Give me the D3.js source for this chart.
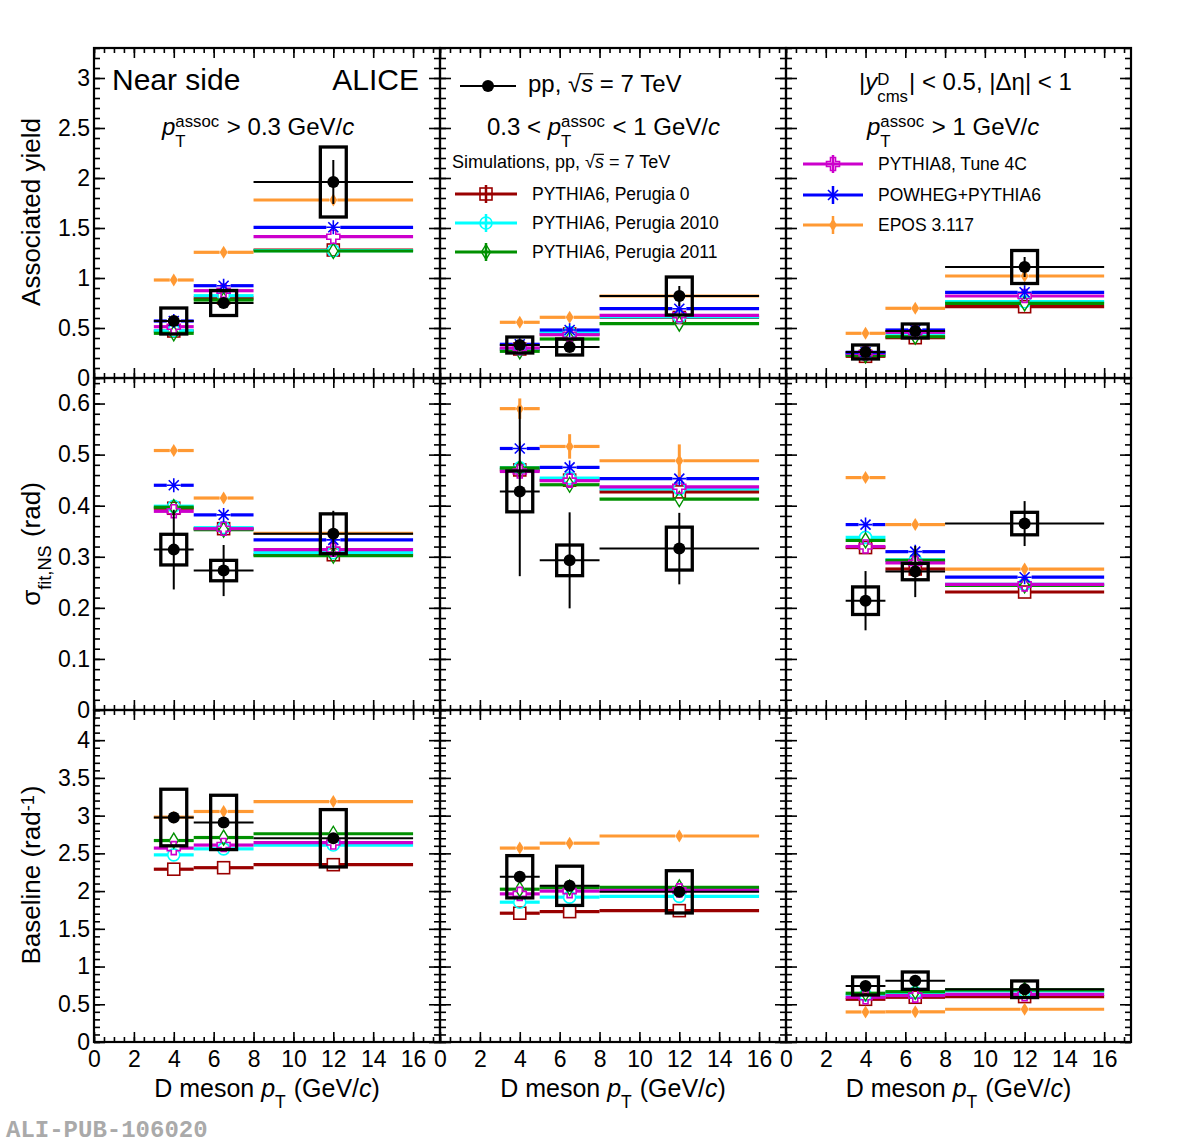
<!DOCTYPE html>
<meta charset="utf-8">
<style>
  body { margin: 0; background: white; }
  svg { display: block; background: white; }
  text { font-family: "Liberation Sans", Arial, Helvetica, sans-serif; white-space: pre; fill: black; }
  .tick text { font-size: 23px; font-family: "Liberation Sans", Arial, Helvetica, sans-serif; }
</style>
<body>
<svg width="1182" height="1146"></svg>
<script src="https://d3js.org/d3.v7.min.js"></script>
<script>
  // D meson pT bins
  var ptLow = [3, 5, 8], ptHigh = [5, 8, 16], ptMid = [4, 6.5, 12];
  var xTicks = [0, 2, 4, 6, 8, 10, 12, 14, 16];
  var yieldTicks = [0, 0.5, 1, 1.5, 2, 2.5, 3];
  var sigmaTicks = [0, 0.1, 0.2, 0.3, 0.4, 0.5, 0.6];
  var baseTicks = [0, 0.5, 1, 1.5, 2, 2.5, 3, 3.5, 4];

  // one inner list per column: pT assoc > 0.3, 0.3-1, > 1 GeV/c
  var yieldData = [[0.57, 0.75, 1.96], [0.33, 0.31, 0.82], [0.26, 0.47, 1.11]];
  var yieldStat = [[0.05, 0.05, 0.22], [0.04, 0.04, 0.1], [0.03, 0.04, 0.1]];
  var yieldSyst = [[0.13, 0.125, 0.35], [0.08, 0.08, 0.19], [0.07, 0.07, 0.165]];
  var sigmaData = [[0.314, 0.273, 0.345], [0.428, 0.293, 0.316], [0.214, 0.271, 0.365]];
  var sigmaStat = [[0.078, 0.05, 0.045], [0.166, 0.094, 0.07], [0.058, 0.05, 0.044]];
  var sigmaSyst = [[0.03, 0.02, 0.039], [0.04, 0.03, 0.042], [0.027, 0.016, 0.022]];
  var baseData = [[2.975, 2.91, 2.70], [2.19, 2.07, 1.99], [0.743, 0.813, 0.699]];
  var baseStat = [[0.03, 0.03, 0.05], [0.03, 0.03, 0.04], [0.02, 0.02, 0.02]];
  var baseSyst = [[0.375, 0.36, 0.38], [0.28, 0.26, 0.28], [0.12, 0.115, 0.11]];

  var yieldPerugia0 = [[0.47, 0.80, 1.28], [0.29, 0.44, 0.605], [0.217, 0.403, 0.713]];
  var yieldPerugia2010 = [[0.473, 0.823, 1.273], [0.29, 0.455, 0.61], [0.237, 0.447, 0.763]];
  var yieldPerugia2011 = [[0.447, 0.78, 1.27], [0.267, 0.39, 0.543], [0.227, 0.413, 0.747]];
  var yieldPythia8 = [[0.513, 0.873, 1.413], [0.30, 0.433, 0.627], [0.247, 0.457, 0.82]];
  var yieldPowheg = [[0.57, 0.923, 1.507], [0.337, 0.48, 0.693], [0.257, 0.48, 0.857]];
  var yieldEpos = [[0.98, 1.257, 1.78], [0.557, 0.607, 0.82], [0.447, 0.697, 1.02]];

  var sigmaPerugia0 = [[0.395, 0.355, 0.304], [0.47, 0.45, 0.427], [0.318, 0.276, 0.231]];
  var sigmaPerugia2010 = [[0.399, 0.357, 0.308], [0.474, 0.454, 0.433], [0.338, 0.294, 0.246]];
  var sigmaPerugia2011 = [[0.397, 0.353, 0.302], [0.474, 0.441, 0.413], [0.332, 0.293, 0.244]];
  var sigmaPythia8 = [[0.389, 0.355, 0.314], [0.467, 0.449, 0.437], [0.32, 0.288, 0.246]];
  var sigmaPowheg = [[0.44, 0.382, 0.333], [0.512, 0.475, 0.453], [0.363, 0.31, 0.26]];
  var sigmaEpos = [[0.508, 0.415, 0.346], [0.59, 0.516, 0.488], [0.455, 0.363, 0.276]];
  var sigmaEposErr = [[0.004, 0.005, 0.004], [0.02, 0.024, 0.032], [0.004, 0.004, 0.004]];

  var basePerugia0 = [[2.29, 2.31, 2.35], [1.707, 1.728, 1.741], [0.566, 0.593, 0.602]];
  var basePerugia2010 = [[2.48, 2.56, 2.61], [1.853, 1.92, 1.93], [0.623, 0.654, 0.676]];
  var basePerugia2011 = [[2.67, 2.71, 2.76], [2.025, 2.045, 2.05], [0.646, 0.667, 0.69]];
  var basePythia8 = [[2.57, 2.61, 2.643], [1.963, 2.0, 2.01], [0.593, 0.615, 0.632]];
  var baseEpos = [[2.98, 3.055, 3.187], [2.57, 2.635, 2.73], [0.398, 0.40, 0.434]];

  var models = [
    { name: "PYTHIA6, Perugia 0", color: "#990000", marker: "square", yield: yieldPerugia0, sigma: sigmaPerugia0, base: basePerugia0 },
    { name: "PYTHIA6, Perugia 2010", color: "#00ffff", marker: "circle", yield: yieldPerugia2010, sigma: sigmaPerugia2010, base: basePerugia2010 },
    { name: "PYTHIA6, Perugia 2011", color: "#009000", marker: "diamond", yield: yieldPerugia2011, sigma: sigmaPerugia2011, base: basePerugia2011 },
    { name: "PYTHIA8, Tune 4C", color: "#cc00cc", marker: "cross", yield: yieldPythia8, sigma: sigmaPythia8, base: basePythia8 },
    { name: "POWHEG+PYTHIA6", color: "#0000ff", marker: "star", yield: yieldPowheg, sigma: sigmaPowheg, base: null },
    { name: "EPOS 3.117", color: "#ff9933", marker: "fdiamond", yield: yieldEpos, sigma: sigmaEpos, base: baseEpos, sigmaErr: sigmaEposErr }
  ];

  var measured = {
    yield: { v: yieldData, stat: yieldStat, syst: yieldSyst },
    sigma: { v: sigmaData, stat: sigmaStat, syst: sigmaSyst },
    base: { v: baseData, stat: baseStat, syst: baseSyst }
  };

  var rows = [
    { key: "yield", max: 3.3, ticks: yieldTicks, minor: 0.1 },
    { key: "sigma", max: 0.65, ticks: sigmaTicks, minor: 0.02 },
    { key: "base", max: 4.4, ticks: baseTicks, minor: 0.1 }
  ];

  var svg = d3.select("svg");
  var colLeft = [94, 440, 786], colW = [346, 346, 345];
  var rowTop = [48, 378, 710], rowH = [330, 332, 332];
  var xMax = 17.35, boxHalf = 0.65;

  function steps(step, max) {
    var out = [];
    for (var i = 0; i * step <= max + 1e-9; i++) out.push(+(i * step).toFixed(4));
    return out;
  }

  var markerHalf = { dot: 6, square: 6, circle: 6, diamond: 4.5, cross: 6.5, star: 7, fdiamond: 4 };

  function marker(g, type, cx, cy, color) {
    if (type == "dot") {
      g.append("circle").attr("cx", cx).attr("cy", cy).attr("r", 6).attr("fill", color);
    } else if (type == "square") {
      g.append("rect").attr("x", cx - 6).attr("y", cy - 6).attr("width", 12).attr("height", 12)
        .attr("fill", "none").attr("stroke", color).attr("stroke-width", 1.6);
    } else if (type == "circle") {
      g.append("circle").attr("cx", cx).attr("cy", cy).attr("r", 6)
        .attr("fill", "none").attr("stroke", color).attr("stroke-width", 1.6);
    } else if (type == "diamond") {
      g.append("path").attr("d", "M" + cx + "," + (cy - 7.5) + "L" + (cx + 4.5) + "," + cy + "L" + cx + "," + (cy + 7.5) + "L" + (cx - 4.5) + "," + cy + "Z")
        .attr("fill", "none").attr("stroke", color).attr("stroke-width", 1.4);
    } else if (type == "cross") {
      var a = 6.5, b = 2.5;
      var p = [[-b, -a], [b, -a], [b, -b], [a, -b], [a, b], [b, b], [b, a], [-b, a], [-b, b], [-a, b], [-a, -b], [-b, -b]];
      g.append("path").attr("d", "M" + p.map(function(q) { return (cx + q[0]) + "," + (cy + q[1]); }).join("L") + "Z")
        .attr("fill", "none").attr("stroke", color).attr("stroke-width", 1.6);
    } else if (type == "star") {
      g.append("path").attr("d", "M" + (cx - 7) + "," + cy + "H" + (cx + 7) + "M" + cx + "," + (cy - 7) + "V" + (cy + 7) +
        "M" + (cx - 5) + "," + (cy - 5) + "L" + (cx + 5) + "," + (cy + 5) + "M" + (cx - 5) + "," + (cy + 5) + "L" + (cx + 5) + "," + (cy - 5))
        .attr("stroke", color).attr("stroke-width", 1.6).attr("fill", "none");
    } else if (type == "fdiamond") {
      g.append("path").attr("d", "M" + cx + "," + (cy - 6.5) + "L" + (cx + 4) + "," + cy + "L" + cx + "," + (cy + 6.5) + "L" + (cx - 4) + "," + cy + "Z")
        .attr("fill", color);
    }
  }

  // text with italic pieces, stacked super/subscripts and overlines
  function rich(parent, x, y, parts, size, anchor, rotate) {
    var g = parent.append("g");
    var cx = 0;
    parts.forEach(function(p) {
      if (typeof p == "string") p = { t: p };
      if (p.sup != null || p.sub != null) {
        var w = 0, s = size * 0.7;
        if (p.sup != null) {
          var t1 = g.append("text").attr("x", cx).attr("y", size * (p.supDy || -0.33)).attr("font-size", s).text(p.sup);
          w = Math.max(w, t1.node().getComputedTextLength());
        }
        if (p.sub != null) {
          var t2 = g.append("text").attr("x", cx).attr("y", size * (p.subDy || 0.48)).attr("font-size", s).text(p.sub);
          w = Math.max(w, t2.node().getComputedTextLength());
        }
        cx += w + 1;
      } else {
        var t = g.append("text").attr("x", cx).attr("y", 0).attr("font-size", size).text(p.t);
        if (p.it) t.attr("font-style", "italic");
        var len = t.node().getComputedTextLength();
        if (p.over) {
          g.append("line").attr("x1", cx - 1).attr("x2", cx + len).attr("y1", -size * 0.76).attr("y2", -size * 0.76)
            .attr("stroke", "black").attr("stroke-width", 1.2);
        }
        cx += len;
      }
    });
    var dx = anchor == "middle" ? -cx / 2 : anchor == "end" ? -cx : 0;
    g.attr("transform", "translate(" + x + "," + y + ") rotate(" + (rotate || 0) + ") translate(" + dx + ",0)");
    return g;
  }

  rows.forEach(function(row, r) {
    var y0 = rowTop[r], h = rowH[r];
    colLeft.forEach(function(x0, c) {
      var w = colW[c];
      var x = d3.scaleLinear().domain([0, xMax]).range([x0, x0 + w]);
      var y = d3.scaleLinear().domain([0, row.max]).range([y0 + h, y0]);
      var g = svg.append("g");

      // models, drawn as horizontal bin lines with a marker in the middle
      models.forEach(function(m) {
        var vals = m[row.key];
        if (!vals) return;
        var errs = m[row.key + "Err"];
        var mg = g.append("g");
        vals[c].forEach(function(v, i) {
          var ym = y(v), xm = x(ptMid[i]), gap = markerHalf[m.marker];
          mg.append("line").attr("x1", x(ptLow[i])).attr("x2", xm - gap).attr("y1", ym).attr("y2", ym)
            .attr("stroke", m.color).attr("stroke-width", 3.2);
          mg.append("line").attr("x1", xm + gap).attr("x2", x(ptHigh[i])).attr("y1", ym).attr("y2", ym)
            .attr("stroke", m.color).attr("stroke-width", 3.2);
          if (errs) {
            var e = errs[c][i];
            if (y(v - e) - ym > gap) {
              mg.append("line").attr("x1", xm).attr("x2", xm).attr("y1", y(v + e)).attr("y2", ym - gap)
                .attr("stroke", m.color).attr("stroke-width", 3);
              mg.append("line").attr("x1", xm).attr("x2", xm).attr("y1", ym + gap).attr("y2", y(v - e))
                .attr("stroke", m.color).attr("stroke-width", 3);
            }
          }
          marker(mg, m.marker, xm, ym, m.color);
        });
      });

      // measured points: syst boxes, stat bars, bin widths
      var d = measured[row.key];
      var dg = g.append("g");
      d.v[c].forEach(function(v, i) {
        var xm = x(ptMid[i]);
        dg.append("rect")
          .attr("x", x(ptMid[i] - boxHalf)).attr("width", x(ptMid[i] + boxHalf) - x(ptMid[i] - boxHalf))
          .attr("y", y(v + d.syst[c][i])).attr("height", y(v - d.syst[c][i]) - y(v + d.syst[c][i]))
          .attr("fill", "none").attr("stroke", "black").attr("stroke-width", 3.3);
        dg.append("line").attr("x1", x(ptLow[i])).attr("x2", x(ptHigh[i])).attr("y1", y(v)).attr("y2", y(v))
          .attr("stroke", "black").attr("stroke-width", 2);
        dg.append("line").attr("x1", xm).attr("x2", xm).attr("y1", y(v + d.stat[c][i])).attr("y2", y(v - d.stat[c][i]))
          .attr("stroke", "black").attr("stroke-width", 2);
        marker(dg, "dot", xm, y(v), "black");
      });

      // axes with inward ticks on all four sides
      var xMinor = steps(0.5, xMax), yMinor = steps(row.minor, row.max);
      function style(a) {
        a.select(".domain").remove();
        a.selectAll(".tick line").attr("stroke-width", 1.6);
      }
      svg.append("g").attr("transform", "translate(0," + (y0 + h) + ")")
        .call(d3.axisBottom(x).tickValues(xMinor).tickSize(-5).tickFormat("")).call(style);
      svg.append("g").attr("transform", "translate(0," + (y0 + h) + ")")
        .call(d3.axisBottom(x).tickValues(xTicks).tickSize(-10).tickPadding(9)
          .tickFormat(r == 2 ? function(t) { return t; } : "")).call(style);
      svg.append("g").attr("transform", "translate(0," + y0 + ")")
        .call(d3.axisTop(x).tickValues(xMinor).tickSize(-5).tickFormat("")).call(style);
      svg.append("g").attr("transform", "translate(0," + y0 + ")")
        .call(d3.axisTop(x).tickValues(xTicks).tickSize(-10).tickFormat("")).call(style);
      svg.append("g").attr("transform", "translate(" + x0 + ",0)")
        .call(d3.axisLeft(y).tickValues(yMinor).tickSize(-6).tickFormat("")).call(style);
      svg.append("g").attr("transform", "translate(" + x0 + ",0)")
        .call(d3.axisLeft(y).tickValues(row.ticks).tickSize(-11).tickPadding(4)
          .tickFormat(c == 0 ? function(t) { return String(t); } : "")).call(style);
      svg.append("g").attr("transform", "translate(" + (x0 + w) + ",0)")
        .call(d3.axisRight(y).tickValues(yMinor).tickSize(-6).tickFormat("")).call(style);
      svg.append("g").attr("transform", "translate(" + (x0 + w) + ",0)")
        .call(d3.axisRight(y).tickValues(row.ticks).tickSize(-11).tickFormat("")).call(style);

      svg.append("rect").attr("x", x0).attr("y", y0).attr("width", w).attr("height", h)
        .attr("fill", "none").attr("stroke", "black").attr("stroke-width", 2.2);
    });
  });

  // axis titles
  var ptTitle = ["D meson ", { t: "p", it: 1 }, { sub: "T", subDy: 0.45 }, " (GeV/", { t: "c", it: 1 }, ")"];
  colLeft.forEach(function(x0, c) {
    rich(svg, x0 + colW[c] / 2, 1097, ptTitle, 25, "middle");
  });
  rich(svg, 40, 212, ["Associated yield"], 26, "middle", -90);
  rich(svg, 40, 544, ["σ", { sub: "fit,NS", subDy: 0.42 }, " (rad)"], 26, "middle", -90);
  rich(svg, 40, 875, ["Baseline (rad", { sup: "-1", supDy: -0.24 }, ")"], 26, "middle", -90);

  // panel labels
  rich(svg, 112, 90, ["Near side"], 30, "start");
  rich(svg, 419, 90, ["ALICE"], 30, "end");
  rich(svg, 162, 135, [{ t: "p", it: 1 }, { sup: "assoc", sub: "T" }, " > 0.3 GeV/", { t: "c", it: 1 }], 24, "start");
  rich(svg, 487, 135, ["0.3 < ", { t: "p", it: 1 }, { sup: "assoc", sub: "T" }, " < 1 GeV/", { t: "c", it: 1 }], 24, "start");
  rich(svg, 867, 135, [{ t: "p", it: 1 }, { sup: "assoc", sub: "T" }, " > 1 GeV/", { t: "c", it: 1 }], 24, "start");
  rich(svg, 859, 90, ["|", { t: "y", it: 1 }, { sup: "D", sub: "cms", supDy: -0.22 }, "| < 0.5, |Δη| < 1"], 24, "start");

  // legend: data
  svg.append("line").attr("x1", 460).attr("x2", 516).attr("y1", 86).attr("y2", 86).attr("stroke", "black").attr("stroke-width", 2);
  marker(svg, "dot", 488, 86, "black");
  rich(svg, 528, 92, ["pp, √", { t: "s", it: 1, over: 1 }, " = 7 TeV"], 24, "start");
  rich(svg, 452, 168, ["Simulations, pp, √", { t: "s", it: 1, over: 1 }, " = 7 TeV"], 18, "start");

  // legend: models
  var legendPos = [
    { x1: 455, x2: 517, y: 194, tx: 532 },
    { x1: 455, x2: 517, y: 223, tx: 532 },
    { x1: 455, x2: 517, y: 252, tx: 532 },
    { x1: 803, x2: 863, y: 164, tx: 878 },
    { x1: 803, x2: 863, y: 195, tx: 878 },
    { x1: 803, x2: 863, y: 225, tx: 878 }
  ];
  models.forEach(function(m, i) {
    var p = legendPos[i], xm = (p.x1 + p.x2) / 2;
    svg.append("line").attr("x1", p.x1).attr("x2", p.x2).attr("y1", p.y).attr("y2", p.y)
      .attr("stroke", m.color).attr("stroke-width", 3.2);
    svg.append("line").attr("x1", xm).attr("x2", xm).attr("y1", p.y - 9).attr("y2", p.y + 9)
      .attr("stroke", m.color).attr("stroke-width", 2.5);
    marker(svg, m.marker, xm, p.y, m.color);
    rich(svg, p.tx, p.y + 6, [m.name], 17.5, "start");
  });

  svg.append("text").attr("x", 6).attr("y", 1137)
    .attr("font-size", 24).attr("font-weight", "bold")
    .style("font-family", "'Liberation Mono', 'DejaVu Sans Mono', monospace")
    .style("fill", "#aaaaaa")
    .text("ALI-PUB-106020");
</script>
</body>
